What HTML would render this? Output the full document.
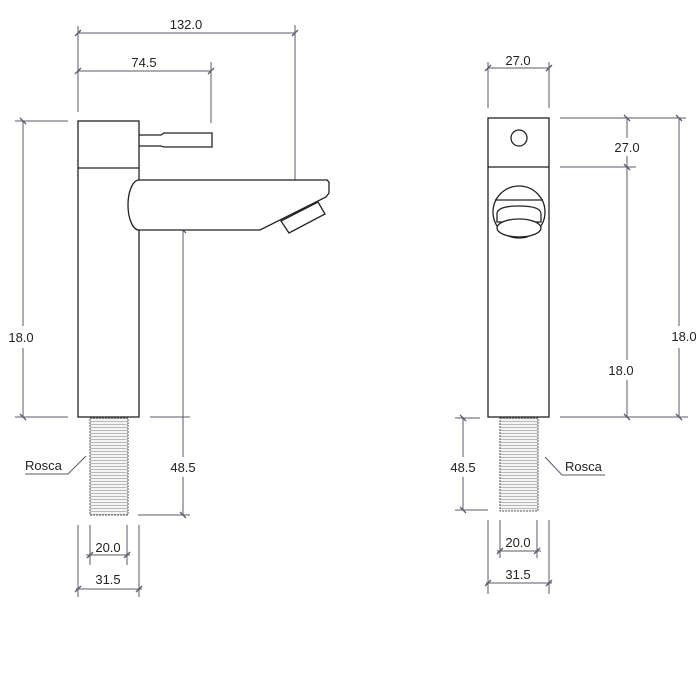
<!DOCTYPE html>
<html><head><style>
html,body{margin:0;padding:0;background:#fff}
svg{display:block}
text{font-family:"Liberation Sans",Arial,sans-serif;font-size:13px;fill:#222}
</style></head><body>
<svg width="700" height="700" viewBox="0 0 700 700" xmlns="http://www.w3.org/2000/svg">
<defs>
<pattern id="thr" width="4" height="3" patternUnits="userSpaceOnUse">
<rect width="4" height="3" fill="#f4f4f4"/><line x1="0" y1="1.5" x2="4" y2="1.5" stroke="#aaa" stroke-width="0.8"/>
</pattern>
</defs>
<g fill="none" stroke="#5a5a66" stroke-width="1">
<!-- left dims -->
<line x1="78" y1="33" x2="295" y2="33"/>
<line x1="78" y1="26" x2="78" y2="112"/>
<line x1="295" y1="25" x2="295" y2="188"/>
<line x1="78" y1="71" x2="211" y2="71"/>
<line x1="211" y1="62" x2="211" y2="123"/>
<line x1="23" y1="121" x2="23" y2="326"/><line x1="23" y1="348" x2="23" y2="417"/>
<line x1="15" y1="121" x2="68" y2="121"/>
<line x1="15" y1="417" x2="68" y2="417"/>
<line x1="183" y1="230" x2="183" y2="457"/><line x1="183" y1="477" x2="183" y2="515"/>
<line x1="150" y1="417" x2="190" y2="417"/>
<line x1="138" y1="515" x2="190" y2="515"/>
<line x1="90" y1="525" x2="90" y2="565"/><line x1="127" y1="525" x2="127" y2="565"/>
<line x1="86" y1="555" x2="130" y2="555"/>
<line x1="78" y1="525" x2="78" y2="597"/><line x1="139" y1="525" x2="139" y2="597"/>
<line x1="76" y1="589" x2="142" y2="589"/>
<polyline points="25,474 68,474 86,456"/>
<!-- right dims -->
<line x1="488" y1="62" x2="488" y2="108"/><line x1="549" y1="62" x2="549" y2="108"/>
<line x1="488" y1="68" x2="550" y2="68"/>
<line x1="560" y1="118" x2="686" y2="118"/>
<line x1="560" y1="167" x2="636" y2="167"/>
<line x1="627" y1="118" x2="627" y2="138"/><line x1="627" y1="156" x2="627" y2="167"/>
<line x1="627" y1="167" x2="627" y2="360"/><line x1="627" y1="380" x2="627" y2="417"/>
<line x1="679" y1="118" x2="679" y2="326"/><line x1="679" y1="348" x2="679" y2="417"/>
<line x1="560" y1="417" x2="688" y2="417"/>
<line x1="463" y1="417" x2="463" y2="457"/><line x1="463" y1="477" x2="463" y2="510"/>
<line x1="455" y1="418" x2="480" y2="418"/>
<line x1="455" y1="510" x2="488" y2="510"/>
<line x1="500" y1="520" x2="500" y2="558"/><line x1="537" y1="520" x2="537" y2="558"/>
<line x1="497" y1="551" x2="541" y2="551"/>
<line x1="488" y1="520" x2="488" y2="594"/><line x1="549" y1="520" x2="549" y2="594"/>
<line x1="486" y1="583" x2="552" y2="583"/>
<polyline points="545,457 562,475 605,475"/>
<!-- ticks -->
<g stroke-width="1.3">
<path d="M75,36 l6,-6 M292,36 l6,-6 M75,74 l6,-6 M208,74 l6,-6 M20,118 l6,6 M20,414 l6,6 M180,227 l6,6 M180,512 l6,6 M87,558 l6,-6 M124,558 l6,-6 M75,592 l6,-6 M136,592 l6,-6
M485,71 l6,-6 M546,71 l6,-6 M624,115 l6,6 M624,164 l6,6 M624,414 l6,6 M676,115 l6,6 M676,414 l6,6 M460,415 l6,6 M460,507 l6,6 M497,554 l6,-6 M534,554 l6,-6 M485,586 l6,-6 M546,586 l6,-6"/>
</g>
</g>
<!-- threads -->
<rect x="90" y="418" width="38" height="97" fill="url(#thr)" stroke="#555" stroke-width="1" stroke-dasharray="2 1"/>
<rect x="500" y="418" width="38" height="93" fill="url(#thr)" stroke="#555" stroke-width="1" stroke-dasharray="2 1"/>
<g fill="none" stroke="#222" stroke-width="1.3">
<!-- left faucet -->
<rect x="78" y="121" width="61" height="296" fill="#fff"/>
<line x1="78" y1="168" x2="139" y2="168"/>
<path d="M139,135 H161 L164,133 H212 V147 H164 L161,146 H139"/>
<path d="M139,180 H327 L329,182 V193 L326,197 L260,230 H139 A11,25 0 0 1 139,180 Z" fill="#fff"/>
<polygon points="281,221 289,233 325,214 318,202" fill="#fff"/>
<!-- right faucet -->
<rect x="488" y="118" width="61" height="299" fill="#fff"/>
<line x1="488" y1="167" x2="549" y2="167"/>
<circle cx="519" cy="138" r="8"/>
<circle cx="519" cy="212" r="26"/>
<line x1="495" y1="200" x2="543" y2="200"/>
<path d="M497,222 V214 Q497,206 519,206 Q541,206 541,214 V222 Z" fill="#fff"/>
<ellipse cx="519" cy="228" rx="22" ry="9" fill="#fff"/>
</g>
<!-- labels -->
<text x="186" y="29" text-anchor="middle">132.0</text>
<text x="144" y="67" text-anchor="middle">74.5</text>
<text x="21" y="342" text-anchor="middle">18.0</text>
<text x="183" y="472" text-anchor="middle">48.5</text>
<text x="25" y="470">Rosca</text>
<text x="108" y="552" text-anchor="middle">20.0</text>
<text x="108" y="584" text-anchor="middle">31.5</text>
<text x="518" y="65" text-anchor="middle">27.0</text>
<text x="627" y="152" text-anchor="middle">27.0</text>
<text x="621" y="375" text-anchor="middle">18.0</text>
<text x="684" y="341" text-anchor="middle">18.0</text>
<text x="463" y="472" text-anchor="middle">48.5</text>
<text x="565" y="471">Rosca</text>
<text x="518" y="547" text-anchor="middle">20.0</text>
<text x="518" y="579" text-anchor="middle">31.5</text>
</svg>
</body></html>
